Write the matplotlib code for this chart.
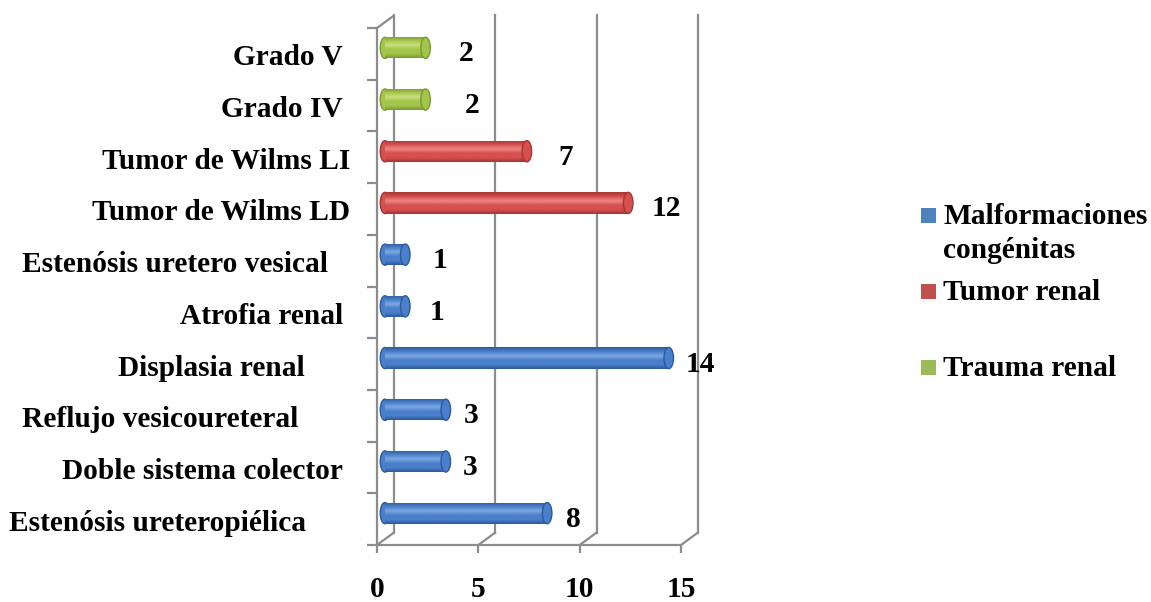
import numpy as np
import matplotlib.pyplot as plt
from matplotlib.patches import Ellipse, Rectangle, ConnectionPatch
from matplotlib.transforms import ScaledTranslation
from matplotlib.colors import LinearSegmentedColormap

# categories from bottom to top
categories = ['Estenósis ureteropiélica', 'Doble sistema colector',
              'Reflujo vesicoureteral', 'Displasia renal', 'Atrofia renal',
              'Estenósis uretero vesical', 'Tumor de Wilms LD',
              'Tumor de Wilms LI', 'Grado IV', 'Grado V']
malformaciones = [8, 3, 3, 14, 1, 1, 0, 0, 0, 0]
tumor_renal = [0, 0, 0, 0, 0, 0, 12, 7, 0, 0]
trauma_renal = [0, 0, 0, 0, 0, 0, 0, 0, 2, 2]
series_names = [['Malformaciones', 'congénitas'], ['Tumor renal'], ['Trauma renal']]
x_ticks = [0, 5, 10, 15]

# label spacing in pixels (left of the axis / right of the bar end)
label_gap = [71, 34, 79, 72, 34, 49, 27, 27, 34, 34]
value_gap = [19, 17, 18, 17, 24, 27, 23, 32, 39, 33]

# (base, dark, light) for each series, then the legend swatches
bar_colors = [('#4A7FCB', '#2C5A9A', '#7DA8E2'),
              ('#D6504E', '#A43534', '#EC8683'),
              ('#A4C54C', '#7A9A2E', '#C9E07E')]
legend_colors = ['#4F81BD', '#C0504D', '#9BBB59']

plt.rcParams['font.family'] = ['Liberation Serif', 'DejaVu Serif']
plt.rcParams['font.weight'] = 'bold'
plt.rcParams['font.size'] = 21.2

W, H = 1151, 602
fig = plt.figure(figsize=(W / 100, H / 100), dpi=100)
ax = fig.add_axes([377 / W, 57 / H, 304 / W, 517 / H])
for s in ax.spines.values():
    s.set_visible(False)


def shifted(dx, dy):
    return ax.transData + ScaledTranslation(dx / 100, dy / 100, fig.dpi_scale_trans)


mid = shifted(8, 6)        # plane the cylinders sit in
back = shifted(17, 12.5)   # back wall

grey = '#8C8C8C'
for x in x_ticks:
    ax.plot([x, x], [-0.5, 9.5], color=grey, lw=1.6, transform=back,
            clip_on=False, zorder=1)
    ax.add_artist(ConnectionPatch((x, -0.5), (x, -0.5), coordsA=ax.transData,
                                  coordsB=back, color=grey, lw=1.6, clip_on=False))
ax.add_artist(ConnectionPatch((0, 9.5), (0, 9.5), coordsA=ax.transData,
                              coordsB=back, color=grey, lw=1.6, clip_on=False))
ax.plot([0, 15], [-0.5, -0.5], color=grey, lw=1.6, clip_on=False, zorder=1)
ax.plot([0, 0], [-0.5, 9.5], color=grey, lw=1.6, clip_on=False, zorder=1)

ax.set_yticks(np.arange(-0.5, 10, 1))
ax.set_yticklabels([])
ax.tick_params(axis='y', length=7, width=1.6, color=grey, direction='out')
ax.set_xticks(x_ticks)
ax.set_xticklabels([str(t) for t in x_ticks])
ax.tick_params(axis='x', length=6, width=1.6, color=grey, direction='out',
               pad=16, labelsize=21.2)

bar_h = 0.41
cap_w = 0.47


def cylinder(y, v, base, dark, light):
    ax.add_patch(Ellipse((0, y), cap_w, bar_h, facecolor=base, edgecolor=dark,
                         lw=1, transform=mid, zorder=2.9))
    body = ax.barh(y, v, height=bar_h, color=base, transform=mid, zorder=3)[0]
    shade = LinearSegmentedColormap.from_list('shade', [dark, base, base, light, base, dark])
    im = ax.imshow(np.linspace(0, 1, 64).reshape(-1, 1), cmap=shade, origin='lower',
                   extent=[0, v, y - bar_h / 2, y + bar_h / 2], transform=mid,
                   aspect='auto', interpolation='bilinear', zorder=3.1)
    im.set_clip_path(body)
    ax.add_patch(Ellipse((v, y), cap_w, bar_h, facecolor=base, edgecolor=dark,
                         lw=1, transform=mid, zorder=3.2))


for values, (base, dark, light) in zip([malformaciones, tumor_renal, trauma_renal], bar_colors):
    for i, v in enumerate(values):
        if v > 0:
            cylinder(i, v, base, dark, light)
            ax.annotate(str(v), xy=(v, i), xycoords=mid, xytext=(value_gap[i], -6),
                        textcoords='offset pixels', ha='left', va='center',
                        annotation_clip=False)

for i, cat in enumerate(categories):
    ax.annotate(cat, xy=(0, i), xycoords=ax.get_yaxis_transform(),
                xytext=(-label_gap[i], -4), textcoords='offset pixels',
                ha='right', va='center', annotation_clip=False)

ax.set_xlim(0, 15)
ax.set_ylim(-0.5, 9.5)

# legend
sq_top = [208, 284, 360]
baselines = [[224, 258], [300], [376]]
for lines, col, top, bls in zip(series_names, legend_colors, sq_top, baselines):
    fig.add_artist(Rectangle((921 / W, 1 - (top + 15) / H), 15 / W, 15 / H,
                             facecolor=col, edgecolor='none', transform=fig.transFigure))
    for line, bl in zip(lines, bls):
        fig.text(943 / W, 1 - bl / H, line, ha='left', va='baseline')

fig.savefig('out.png', dpi=100)
